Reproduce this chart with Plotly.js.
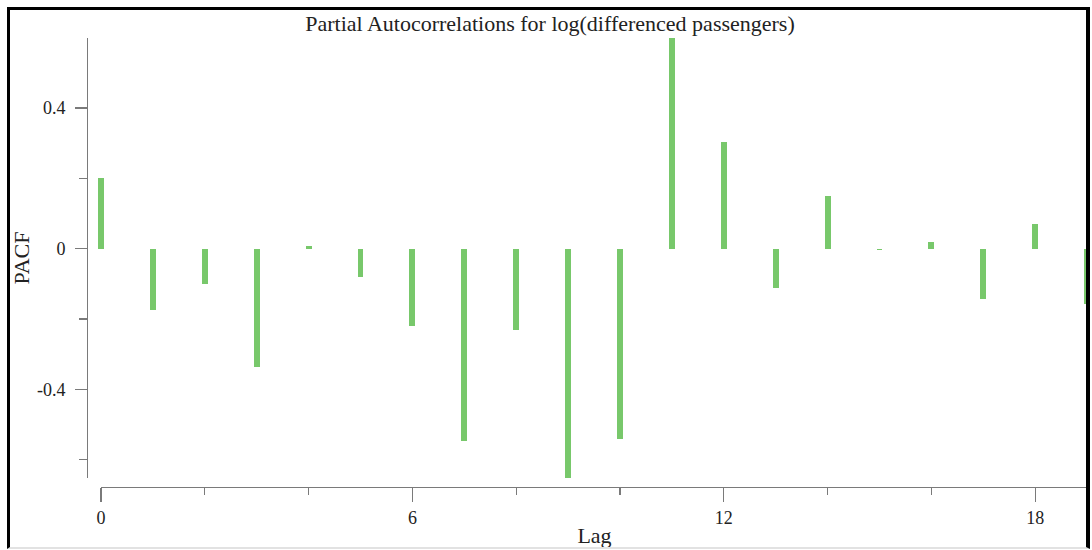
<!DOCTYPE html>
<html>
<head>
<meta charset="utf-8">
<script src="https://cdn.plot.ly/plotly-3.0.1.min.js"></script>
<style>
  html, body { margin: 0; padding: 0; background: #fff; }
  #chart { position: absolute; left: 0; top: 0; width: 1092px; height: 550px; }
  #frame { position: absolute; left: 7px; top: 7px; width: 1083px; height: 542px; box-sizing: border-box;
           border-left: 3px solid #000; border-top: 3px solid #000; border-right: 4px solid #000;
           border-bottom: 2px solid #e2e2e2; pointer-events: none; z-index: 10; }
</style>
</head>
<body>
<div id="chart"></div>
<div id="frame"></div>
<script>
const lags = [0, 1, 2, 3, 4, 5, 6, 7, 8, 9, 10, 11, 12, 13, 14, 15, 16, 17, 18, 19];
const pacf = [0.2, -0.174, -0.1, -0.337, 0.009, -0.08, -0.22, -0.546, -0.231, -0.651,
              -0.54, 0.603, 0.303, -0.111, 0.149, -0.004, 0.02, -0.143, 0.071, -0.157];
const xMajorTicks = [0, 6, 12, 18];
const xMinorTicks = [2, 4, 8, 10, 14, 16];
const yMajorTicks = [-0.4, 0, 0.4];
const yMajorText = ['-0.4', '0', '0.4'];
const yMinorTicks = [-0.6, -0.2, 0.2];

const font = 'Liberation Serif, Times New Roman, serif';
const axisGrey = '#7a7a7a';
const plotW = 1092 - 87 - 4;
const offset = 14;                 // px between y-axis line and lag 0
const pxPerLag = 51.9;
const xMax = (plotW - offset) / pxPerLag;

const traces = [
  {
    type: 'bar', x: lags, y: pacf, width: 0.115,
    marker: { color: '#78c86b', line: { width: 0 } },
    xaxis: 'x', yaxis: 'y', hoverinfo: 'x+y', showlegend: false
  },
  { type: 'scatter', x: [], y: [], xaxis: 'x2', yaxis: 'y', showlegend: false, hoverinfo: 'skip' }
];

const layout = {
  width: 1092, height: 550,
  margin: { l: 87, r: 4, t: 38, b: 63 },
  paper_bgcolor: '#fff', plot_bgcolor: 'rgba(0,0,0,0)',
  font: { family: font, color: '#222', size: 18 },
  title: {
    text: 'Partial Autocorrelations for log(differenced passengers)',
    font: { family: font, size: 22, color: '#222' },
    xref: 'container', yref: 'container', x: 550 / 1092, xanchor: 'center', y: 1 - 23 / 550, yanchor: 'middle'
  },
  bargap: 0,
  xaxis: {
    domain: [0, 1], range: [-offset / pxPerLag, xMax], visible: false, fixedrange: true,
    anchor: 'free', position: 0
  },
  xaxis2: {
    domain: [offset / plotW, 1], range: [0, xMax], anchor: 'free', position: 0,
    showline: true, linecolor: axisGrey, linewidth: 1.3, showgrid: false, zeroline: false,
    ticks: 'outside', tickcolor: axisGrey, ticklen: 14, tickwidth: 1.3,
    tickmode: 'array', tickvals: xMajorTicks, ticktext: xMajorTicks.map(String),
    minor: { tickmode: 'array', tickvals: xMinorTicks, ticks: 'outside', ticklen: 7, tickcolor: axisGrey, tickwidth: 1.3, showgrid: false },
    tickfont: { family: font, size: 18, color: '#222' },
    title: { text: 'Lag', font: { family: font, size: 22, color: '#222' }, standoff: 0 },
    fixedrange: true
  },
  yaxis: {
    domain: [9 / 449, 1], range: [-0.652, 0.599], anchor: 'free', position: 0,
    showline: true, linecolor: axisGrey, linewidth: 1.3, showgrid: false, zeroline: false,
    ticks: 'outside', tickcolor: axisGrey, ticklen: 12, tickwidth: 1.3, ticklabelstandoff: 6,
    tickmode: 'array', tickvals: yMajorTicks, ticktext: yMajorText,
    minor: { tickmode: 'array', tickvals: yMinorTicks, ticks: 'outside', ticklen: 8, tickcolor: axisGrey, tickwidth: 1.3, showgrid: false },
    tickfont: { family: font, size: 18, color: '#222' },
    title: { text: 'PACF', font: { family: font, size: 22, color: '#222' }, standoff: 0 },
    fixedrange: true
  }
};

Plotly.newPlot('chart', traces, layout, { displayModeBar: false, staticPlot: true });
</script>
</body>
</html>
